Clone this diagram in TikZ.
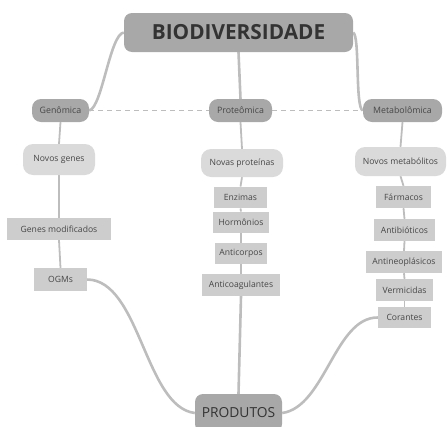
\documentclass[tikz,border=0pt]{standalone}
\usepackage{fontspec}
\setmainfont{Open Sans}
\usetikzlibrary{backgrounds}
\definecolor{darkbox}{HTML}{A8A8A8}
\definecolor{lightbox}{HTML}{DADADA}
\definecolor{rectbox}{HTML}{CDCDCD}
\definecolor{linecol}{HTML}{BDBDBD}
\definecolor{txtdark}{HTML}{333333}
\definecolor{txtmid}{HTML}{474747}
\tikzset{
  mainbox/.style={fill=darkbox, rounded corners=8pt, inner sep=0pt, text=txtdark},
  levelbox/.style={fill=darkbox, rounded corners=9pt, inner sep=0pt, minimum height=23pt, text=txtmid, font=\fontsize{8.8}{10}\selectfont},
  newbox/.style={fill=lightbox, rounded corners=10pt, inner sep=0pt, text=txtmid, font=\fontsize{8.6}{10}\selectfont},
  itembox/.style={fill=rectbox, inner sep=0pt, minimum height=21.5pt, text=txtmid, font=\fontsize{8.6}{10}\selectfont},
  thickline/.style={draw=linecol, line width=2.6pt},
  thinline/.style={draw=linecol, line width=1.8pt},
  dashline/.style={draw=linecol, line width=1pt, dash pattern=on 5pt off 4pt}
}
\begin{document}
\begin{tikzpicture}[x=1pt,y=-1pt]
\useasboundingbox (0,0) rectangle (447,426);
\node[mainbox, minimum width=229pt, minimum height=39pt, font=\fontsize{20.8}{24}\selectfont\bfseries] (bio) at (238.5,32.5) {BIODIVERSIDADE};
\node[levelbox, minimum width=57pt] (gen) at (60.5,110.5) {Genômica};
\node[levelbox, minimum width=63pt] (pro) at (240.5,110.5) {Proteômica};
\node[levelbox, minimum width=79pt] (met) at (402.5,110.5) {Metabolômica};
\node[newbox, minimum width=72pt, minimum height=31pt] (ng) at (59,159.5) {Novos genes};
\node[itembox, minimum width=104pt, minimum height=22pt] (gm) at (59,229) {Genes modificados};
\node[itembox, minimum width=53pt, minimum height=23pt] (ogm) at (60.5,279.5) {OGMs};
\node[newbox, minimum width=82pt, minimum height=28pt] (np) at (242,163) {Novas proteínas};
\node[itembox, minimum width=53pt] (enz) at (240.5,197.5) {Enzimas};
\node[itembox, minimum width=56pt] (hor) at (241,222.5) {Hormônios};
\node[itembox, minimum width=52pt] (acp) at (241,253.5) {Anticorpos};
\node[itembox, minimum width=78pt, minimum height=22pt] (acg) at (241,285) {Anticoagulantes};
\node[newbox, minimum width=91pt, minimum height=29pt] (nm) at (400.5,161.5) {Novos metabólitos};
\node[itembox, minimum width=55pt, minimum height=22pt] (far) at (403.5,197) {Fármacos};
\node[itembox, minimum width=61pt, minimum height=22pt] (atb) at (404.5,230) {Antibióticos};
\node[itembox, minimum width=76pt, minimum height=22pt] (anp) at (404,262) {Antineoplásicos};
\node[itembox, minimum width=57pt, minimum height=22pt] (ver) at (404.5,290) {Vermicidas};
\node[itembox, minimum width=53pt] (cor) at (404.5,317.5) {Corantes};
\node[mainbox, minimum width=87pt, minimum height=38pt, text=txtdark, font=\fontsize{13.8}{16}\selectfont] (prod) at (238.5,413) {PRODUTOS};
\begin{pgfonlayer}{background}
\draw[dashline] (gen.east) -- (pro.west);
\draw[dashline] (pro.east) -- (met.west);
\draw[thickline] (bio.west) .. controls (110,34) and (102,108) .. (gen.east);
\draw[thickline] (bio.south) -- (pro.north);
\draw[thickline] (bio.east) .. controls (360,36) and (355,108) .. (met.west);
\draw[thinline] (gen.south) -- (ng.north);
\draw[thinline] (ng.south) -- (gm.north);
\draw[thinline] (gm.south) -- (ogm.north);
\draw[thinline] (pro.south) -- (np.north);
\draw[thinline] (np.south) -- (enz.north);
\draw[thinline] (enz.south) -- (hor.north);
\draw[thinline] (hor.south) -- (acp.north);
\draw[thinline] (acp.south) -- (acg.north);
\draw[thinline] (met.south) -- (nm.north);
\draw[thinline] (nm.south) -- (far.north);
\draw[thinline] (far.south) -- (atb.north);
\draw[thinline] (atb.south) -- (anp.north);
\draw[thinline] (anp.south) -- (ver.north);
\draw[thinline] (ver.south) -- (cor.north);
\draw[thickline] (ogm.east) .. controls (140,280) and (145,407) .. (prod.west);
\draw[thickline] (acg.south) -- (prod.north);
\draw[thickline] (cor.west) .. controls (335,317) and (325,407) .. (prod.east);
\end{pgfonlayer}
\end{tikzpicture}
\end{document}
